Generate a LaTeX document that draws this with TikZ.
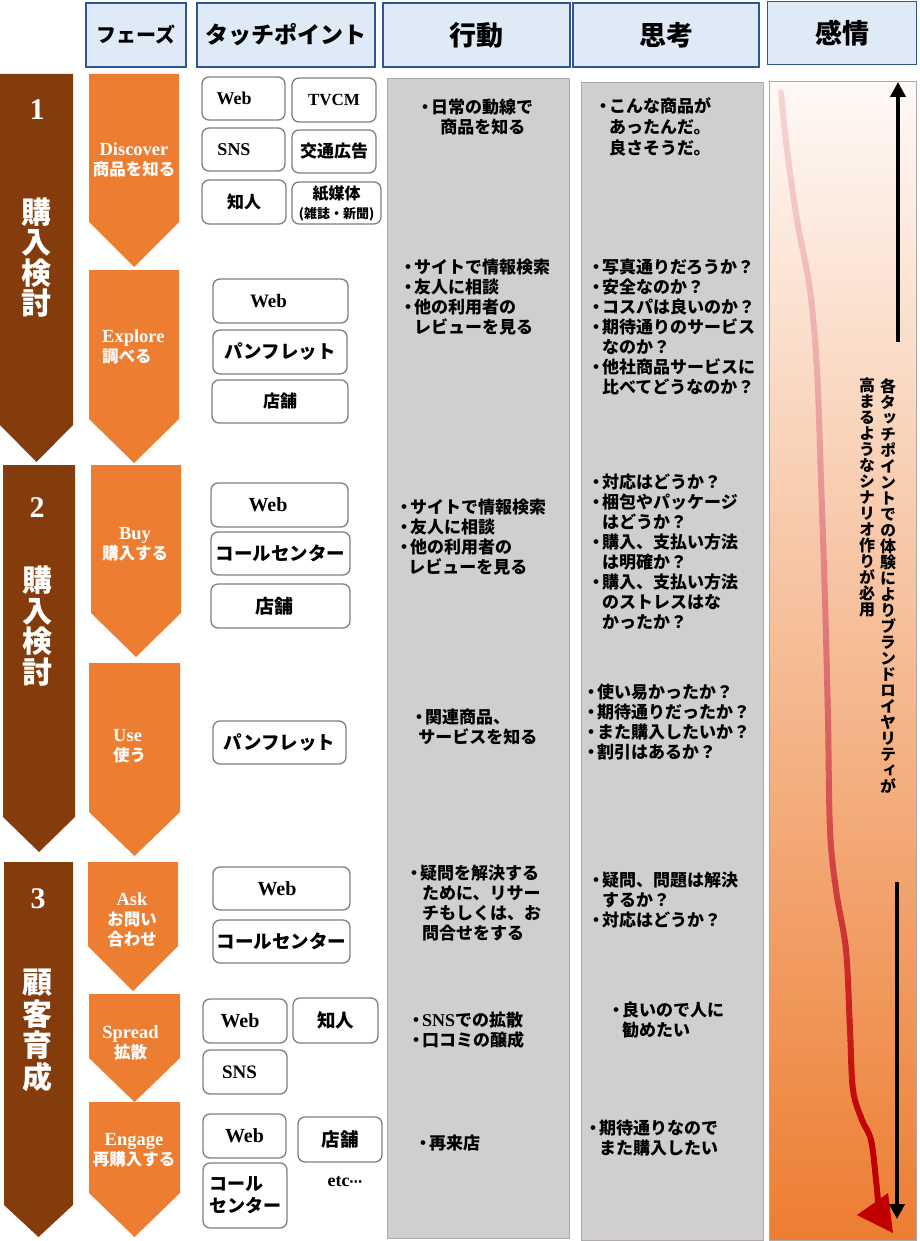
\documentclass[tikz,border=0pt]{standalone}
\usepackage{fontspec}
\setmainfont{Noto Sans CJK JP}
\newfontfamily\lat{Liberation Serif}
\newfontfamily\dejavu{DejaVu Sans}
\newfontfamily\vjp{Noto Sans CJK JP}[RawFeature=+vert]
\usetikzlibrary{arrows.meta}
\definecolor{hdrfill}{HTML}{DEEBF7}
\definecolor{hdrline}{HTML}{2F5597}
\definecolor{phbrown}{HTML}{843C0C}
\definecolor{phorange}{HTML}{ED7D31}
\definecolor{colgray}{HTML}{D0CECE}
\definecolor{colline}{HTML}{AEAAAA}
\definecolor{tpline}{HTML}{7F7F7F}
\definecolor{rdark}{HTML}{C00000}
\definecolor{rlight}{HTML}{F7D3D3}
\definecolor{emtop}{HTML}{FEF9F6}
\newcommand\bl{\makebox[0.7em][c]{・}}
\newcommand\ind{\hspace*{0.7em}}
\newcommand\LL[1]{{\lat\fontsize{18.5}{20}\selectfont #1}}
\newcommand\redcurve[1]{\draw[line width=6pt, line cap=round, color=#1] plot[smooth, tension=0.55] coordinates {(781,92) (787,150) (797,220) (810,290) (817,370) (821,480) (825,600) (828,720) (830,830) (836,890) (846,950) (850,1030) (853,1090) (862,1120) (871,1140) (876,1180) (879,1212)};}
\begin{document}
\begin{tikzpicture}[x=1pt,y=-1pt,
  hdr/.style={draw=hdrline, fill=hdrfill, line width=1.5pt, inner sep=0pt},
  tp/.style={draw=tpline, fill=white, line width=1.3pt, rounded corners=7pt, inner sep=0pt, align=center, font=\bfseries\fontsize{17}{20}\selectfont},
  coltext/.style={anchor=north west, inner sep=0pt, align=left, font=\bfseries\fontsize{17}{20}\selectfont},
  phtext/.style={text=white, inner sep=0pt, align=center, font=\bfseries\fontsize{16.5}{20}\selectfont},
  phleft/.style={text=white, inner sep=0pt, align=left, anchor=west, font=\bfseries\fontsize{16.5}{20}\selectfont},
  brnum/.style={text=white, inner sep=0pt, font=\lat\bfseries\fontsize{30}{30}\selectfont},
  brtext/.style={text=white, inner sep=0pt, align=center, font=\bfseries\fontsize{30}{30.5}\selectfont},
  vtext/.style={anchor=north, inner sep=0pt, align=center, font=\vjp\bfseries\fontsize{16}{16}\selectfont},
  blackarrow/.style={line width=4pt, -{Triangle[width=15pt,length=15pt]}}]
\useasboundingbox (0,0) rectangle (920,1241);

% ---------- headers ----------
\node[hdr, minimum width=100, minimum height=64, font=\bfseries\fontsize{20}{20}\selectfont] (hPhase) at (136,35) {フェーズ};
\node[hdr, minimum width=178, minimum height=64, font=\bfseries\fontsize{23}{23}\selectfont] (hTouch) at (286,35) {タッチポイント};
\node[hdr, minimum width=187, minimum height=64, font=\bfseries\fontsize{27}{27}\selectfont] (hAct) at (476.5,35) {行動};
\node[hdr, minimum width=186, minimum height=64, font=\bfseries\fontsize{27}{27}\selectfont] (hThink) at (666,35) {思考};
\node[hdr, minimum width=149, minimum height=63, font=\bfseries\fontsize{27}{27}\selectfont] (hEmo) at (842,33) {感情};

% ---------- columns ----------
\draw[fill=colgray, draw=colline, line width=1pt] (387,79) rectangle (569,1238);
\draw[fill=colgray, draw=colline, line width=1pt] (581,83) rectangle (763,1240);
\shade[top color=emtop, bottom color=phorange] (769,82) rectangle (916,1240);
\draw[draw=colline, line width=1pt] (769,82) rectangle (916,1240);

% ---------- brown phase blocks ----------
\fill[phbrown] (0,74) -- (73,74) -- (73,425) -- (36.5,462) -- (0,425) -- cycle;
\fill[phbrown] (3,465) -- (75,465) -- (75,817) -- (39,852) -- (3,817) -- cycle;
\fill[phbrown] (4,862) -- (73,862) -- (73,1205) -- (38.5,1237) -- (4,1205) -- cycle;
\node[brnum] (n1) at (37,110) {1};
\node[brtext] (p1) at (36,257.5) {購\\入\\検\\討};
\node[brnum] (n2) at (37,508) {2};
\node[brtext, font=\bfseries\fontsize{30}{30.7}\selectfont] (p2) at (37,626) {購\\入\\検\\討};
\node[brnum] (n3) at (38,899) {3};
\node[brtext, font=\bfseries\fontsize{30}{31.7}\selectfont] (p3) at (37,1030.5) {顧\\客\\育\\成};

% ---------- orange step arrows ----------
\fill[phorange] (89,74) -- (179,74) -- (179,222) -- (134,267) -- (89,222) -- cycle;
\fill[phorange] (89,270) -- (179,270) -- (179,419) -- (134,463) -- (89,419) -- cycle;
\fill[phorange] (91,465) -- (181,465) -- (181,613) -- (136,657) -- (91,613) -- cycle;
\fill[phorange] (89,663) -- (180,663) -- (180,812) -- (134.5,856) -- (89,812) -- cycle;
\fill[phorange] (88,862) -- (178,862) -- (178,946) -- (133,991) -- (88,946) -- cycle;
\fill[phorange] (89,994) -- (180,994) -- (180,1058) -- (134.5,1102) -- (89,1058) -- cycle;
\fill[phorange] (89,1102) -- (180,1102) -- (180,1193) -- (134.5,1237) -- (89,1193) -- cycle;
\node[phtext] (sDiscover) at (134,160) {\LL{Discover}\\商品を知る};
\node[phleft] (sExplore) at (102,346.5) {\LL{Explore}\\調べる};
\node[phtext] (sBuy) at (135,544) {\LL{Buy}\\購入する};
\node[phleft] (sUse) at (113,746.5) {\LL{Use}\\使う};
\node[phtext] (sAsk) at (132,920) {\LL{Ask}\\お問い\\合わせ};
\node[phtext] (sSpread) at (130.5,1043) {\LL{Spread}\\拡散};
\node[phtext] (sEngage) at (134,1150) {\LL{Engage}\\再購入する};

% ---------- touchpoints ----------
\node[tp, minimum width=83, minimum height=43, font=\lat\bfseries\fontsize{18}{20}\selectfont] (tD1) at (243.5,98.5) {\hspace*{-19pt}Web};
\node[tp, minimum width=84, minimum height=44, font=\lat\bfseries\fontsize{17}{20}\selectfont] (tD2) at (334,100) {TVCM};
\node[tp, minimum width=83, minimum height=43, font=\lat\bfseries\fontsize{18}{20}\selectfont] (tD3) at (243.5,149.5) {\hspace*{-19pt}SNS};
\node[tp, minimum width=84, minimum height=43] (tD4) at (334,151.5) {交通広告};
\node[tp, minimum width=84, minimum height=44] (tD5) at (244,202) {知人};
\node[tp, minimum width=89, minimum height=42, font=\bfseries\fontsize{16}{19}\selectfont] (tD6) at (336.5,203) {紙媒体\\{\fontsize{13}{13}\selectfont (雑誌・新聞)}};

\node[tp, minimum width=135, minimum height=44, font=\lat\bfseries\fontsize{19}{20}\selectfont] (tE1) at (280.5,301) {\hspace*{-24pt}Web};
\node[tp, minimum width=134, minimum height=44, font=\bfseries\fontsize{18.5}{20}\selectfont] (tE2) at (280,352) {パンフレット};
\node[tp, minimum width=136, minimum height=43] (tE3) at (280,401.5) {店舗};

\node[tp, minimum width=137, minimum height=44, font=\lat\bfseries\fontsize{20}{20}\selectfont] (tB1) at (279.5,505) {\hspace*{-23pt}Web};
\node[tp, minimum width=139, minimum height=43, font=\bfseries\fontsize{18.5}{20}\selectfont] (tB2) at (280.5,553.5) {コールセンター};
\node[tp, minimum width=139, minimum height=44, font=\bfseries\fontsize{19}{20}\selectfont] (tB3) at (280.5,606) {\hspace*{-13pt}店舗};

\node[tp, minimum width=133, minimum height=43, font=\bfseries\fontsize{18.5}{20}\selectfont] (tU1) at (279.5,742.5) {パンフレット};

\node[tp, minimum width=137, minimum height=43, font=\lat\bfseries\fontsize{20}{20}\selectfont] (tA1) at (281.5,888.5) {\hspace*{-9pt}Web};
\node[tp, minimum width=137, minimum height=43, font=\bfseries\fontsize{18.5}{20}\selectfont] (tA2) at (281.5,941.5) {コールセンター};

\node[tp, minimum width=84, minimum height=44, font=\lat\bfseries\fontsize{20}{20}\selectfont] (tS1) at (245,1021) {\hspace*{-10pt}Web};
\node[tp, minimum width=85, minimum height=45, font=\bfseries\fontsize{18.5}{20}\selectfont] (tS2) at (335.5,1020.5) {知人};
\node[tp, minimum width=84, minimum height=44, font=\lat\bfseries\fontsize{19}{20}\selectfont] (tS3) at (245,1072) {\hspace*{-11pt}SNS};

\node[tp, minimum width=83, minimum height=44, font=\lat\bfseries\fontsize{20}{20}\selectfont] (tG1) at (244.5,1136) {Web};
\node[tp, minimum width=84, minimum height=45, font=\bfseries\fontsize{18.5}{20}\selectfont] (tG2) at (340,1139.5) {店舗};
\node[tp, minimum width=84, minimum height=65, align=left, font=\bfseries\fontsize{18}{22}\selectfont] (tG3) at (245,1195.5) {コール\\センター};
\node[inner sep=0pt, font=\lat\bfseries\fontsize{18}{20}\selectfont] (tG4) at (345,1182) {etc{\dejavu\bfseries\fontsize{13}{13}\selectfont ⋯}};

% ---------- action column ----------
\node[coltext] (aD) at (419,99) {\bl 日常の動線で\\\hspace*{1.25em}商品を知る};
\node[coltext] (aE) at (402,259) {\bl サイトで情報検索\\\bl 友人に相談\\\bl 他の利用者の\\\ind レビューを見る};
\node[coltext] (aB) at (398,499) {\bl サイトで情報検索\\\bl 友人に相談\\\bl 他の利用者の\\\hspace*{0.6em}レビューを見る};
\node[coltext] (aU) at (413,709) {\bl 関連商品、\\\hspace*{0.3em}サービスを知る};
\node[coltext] (aA) at (408,865) {\bl 疑問を解決する\\\hspace*{0.82em}ために、リサー\\\hspace*{0.82em}チもしくは、お\\\hspace*{0.82em}問合せをする};
\node[coltext] (aS) at (410,1012) {\bl {\lat\fontsize{18}{20}\selectfont SNS}での拡散\\\bl 口コミの醸成};
\node[coltext] (aG) at (417,1135) {\bl 再来店};

% ---------- thinking column ----------
\node[coltext, font=\bfseries\fontsize{17}{21}\selectfont] (tkD) at (597,97) {\bl こんな商品が\\\ind あったんだ。\\\ind 良さそうだ。};
\node[coltext] (tkE) at (590,259) {\bl 写真通りだろうか？\\\bl 安全なのか？\\\bl コスパは良いのか？\\\bl 期待通りのサービス\\\ind なのか？\\\bl 他社商品サービスに\\\ind 比べてどうなのか？};
\node[coltext] (tkB) at (590,474) {\bl 対応はどうか？\\\bl 梱包やパッケージ\\\ind はどうか？\\\bl 購入、支払い方法\\\ind は明確か？\\\bl 購入、支払い方法\\\ind のストレスはな\\\ind かったか？};
\node[coltext] (tkU) at (585,684) {\bl 使い易かったか？\\\bl 期待通りだったか？\\\bl また購入したいか？\\\bl 割引はあるか？};
\node[coltext] (tkA) at (590,872) {\bl 疑問、問題は解決\\\ind するか？\\\bl 対応はどうか？};
\node[coltext] (tkS) at (610,1002) {\bl 良いので人に\\\ind 勧めたい};
\node[coltext] (tkG) at (587,1120) {\bl 期待通りなので\\\ind また購入したい};

% ---------- emotion column ----------
\foreach \i in {0,...,57} {
  \pgfmathsetmacro\ya{80+20*\i}
  \pgfmathsetmacro\rt{min(100,100*((max(0.001,\ya+10-92))/1050)^1.25)}
  \begin{scope}
    \clip (760,\ya) rectangle (920,\ya+20.6);
    \redcurve{rdark!\rt!rlight}
  \end{scope}
}
\fill[rdark] (857,1215) -- (888,1193) -- (893,1233) -- cycle;

\coordinate (upS) at (898,342);
\coordinate (upE) at (898,82);
\draw[blackarrow] (upS) -- (upE);
\coordinate (dnS) at (897,882);
\coordinate (dnE) at (897,1219);
\draw[blackarrow] (dnS) -- (dnE);

\node[vtext] (vt1) at (888,378) {各\\タ\\ッ\\チ\\ポ\\イ\\ン\\ト\\で\\の\\体\\験\\に\\よ\\り\\ブ\\ラ\\ン\\ド\\ロ\\イ\\ヤ\\リ\\テ\\ィ\\が};
\node[vtext] (vt2) at (867,378) {高\\ま\\る\\よ\\う\\な\\シ\\ナ\\リ\\オ\\作\\り\\が\\必\\用};
\end{tikzpicture}
\end{document}
